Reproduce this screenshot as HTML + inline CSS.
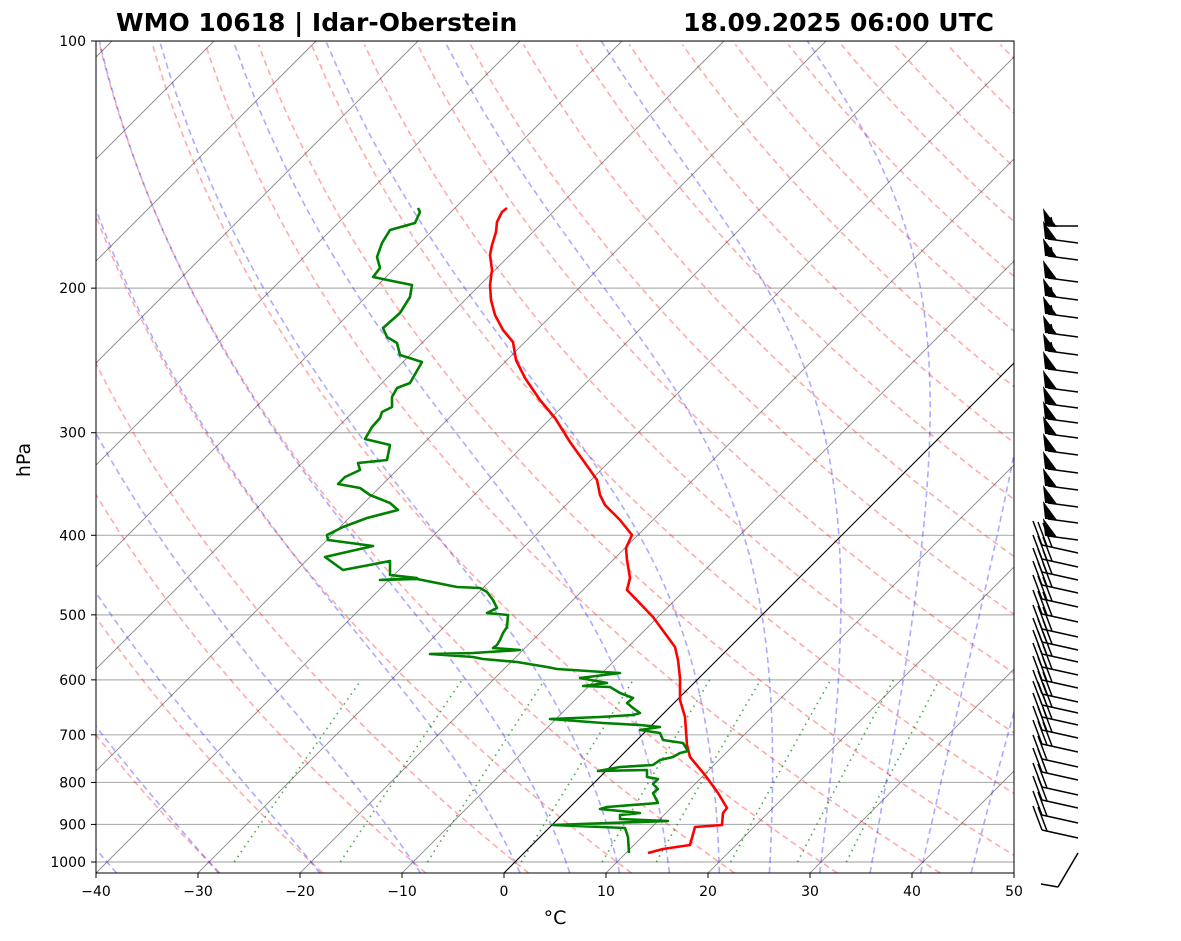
<!DOCTYPE html>
<html><head><meta charset="utf-8"><style>
html,body{margin:0;padding:0;background:#fff;}
svg{display:block;font-family:"DejaVu Sans","Liberation Sans",sans-serif;}
</style></head><body>
<svg id="s" width="1181" height="941" viewBox="0 0 1181 941" xmlns="http://www.w3.org/2000/svg">
<defs><clipPath id="c"><rect x="96" y="41" width="918" height="832"/></clipPath></defs>
<g id="bg" clip-path="url(#c)"></g>
<g id="fg" clip-path="url(#c)"></g>
<rect x="96" y="41" width="918" height="832" fill="none" stroke="#000" stroke-width="1"/>
<g id="ax" font-size="14" fill="#000"></g>
<g id="barbs" stroke="#000" stroke-width="1.5" fill="#000"></g>
<text x="116" y="31" font-size="25" font-weight="bold">WMO 10618 | Idar-Oberstein</text>
<text x="994" y="31" font-size="25" font-weight="bold" text-anchor="end">18.09.2025 06:00 UTC</text>
<text x="555" y="924" font-size="19" text-anchor="middle">°C</text>
<text transform="translate(30,460) rotate(-90)" font-size="19" text-anchor="middle">hPa</text>
</svg>
<script>
var NS="http://www.w3.org/2000/svg";
function el(p,t,a){var e=document.createElementNS(NS,t);for(var k in a)e.setAttribute(k,a[k]);p.appendChild(e);return e;}
var bg=document.getElementById('bg'),fg=document.getElementById('fg'),ax=document.getElementById('ax'),bb=document.getElementById('barbs');
function Y(p){return 41+821*Math.log10(p/100);}
function X(T,p){return 504+10.2*T+(873-Y(p));}
function pl(pts,attrs,par){var d=pts.map(function(q,i){return (i?'L':'M')+q[0].toFixed(1)+','+q[1].toFixed(1);}).join('');attrs.d=d;attrs.fill='none';return el(par||bg,'path',attrs);}
for(var p=100;p<=1000;p+=100){var y=Y(p);el(bg,'line',{x1:96,x2:1014,y1:y,y2:y,stroke:'#b0b0b0','stroke-width':1.2});
 el(ax,'line',{x1:91,x2:96,y1:y,y2:y,stroke:'#000'});var t=el(ax,'text',{x:86,y:y+5,'text-anchor':'end'});t.textContent=p;}
for(var T=-40;T<=50;T+=10){var x=504+10.2*T;el(ax,'line',{x1:x,x2:x,y1:873,y2:878,stroke:'#000'});var t=el(ax,'text',{x:x,y:896,'text-anchor':'middle'});t.textContent=(T<0?'\u2212'+(-T):T);}
var ps=[];for(var p=1031;p>=99;p-=5)ps.push(p);
for(var T=-160;T<=50;T+=10){pl([[X(T,1031),Y(1031)],[X(T,100),Y(100)]],{stroke:'#777','stroke-width':0.9,'stroke-opacity':0.9});}
for(var t0=-30;t0<=200;t0+=10){var th=t0+273.15;pl(ps.map(function(p){return [X(th*Math.pow(p/1000,0.2857)-273.15,p),Y(p)];}),{stroke:'#ff0000','stroke-opacity':0.33,'stroke-width':1.6,'stroke-dasharray':'6,4'});}
function es(Tc){return 6.112*Math.exp(17.67*Tc/(Tc+243.5));}
function dTdp(T,p){var Tc=T-273.15,e=es(Tc),rs=0.622*e/(p-e);return (1/p)*(287.04*T+2.501e6*rs)/(1005.7+2.501e6*2.501e6*rs*0.622/(287.04*T*T));}
var m0=[-50,-40,-30,-20,-10,0,5,10,15,20,25,30,35,40,45];
m0.forEach(function(t0){var T=t0+273.15,pts=[];var p=1000;var Td=T;for(var q=1000;q<1031;q+=1){Td+=dTdp(Td,q);}pts.push([X(Td-273.15,1031),Y(1031)]);pts.push([X(t0,1000),Y(1000)]);
 while(p>100){T-=dTdp(T,p);p-=1;if(p%10===0)pts.push([X(T-273.15,p),Y(p)]);}
 pl(pts,{stroke:'#0000ff','stroke-opacity':0.33,'stroke-width':1.6,'stroke-dasharray':'6,4'});});
[0.0004,0.001,0.002,0.004,0.007,0.01,0.016,0.024,0.032].forEach(function(w){var pts=[];for(var p=1000;p>=600;p-=20){var e=p*w/(0.622+w),l=Math.log(e/6.112),Td=243.5*l/(17.67-l);pts.push([X(Td,p),Y(p)]);}
 pl(pts,{stroke:'#008000','stroke-opacity':0.7,'stroke-width':1.6,'stroke-dasharray':'1.5,4.5'});});
pl([[504,873],[1014,363]],{stroke:'#000','stroke-width':1},fg);
var red=[[648,853],[663,849],[690,845],[695,827],[722,825],[723,813],[727,808],[718,793],[705,775],[690,757],[687,745],[685,717],[680,700],[680,678],[678,660],[675,647],[653,617],[627,590],[630,578],[627,560],[626,548],[632,535],[620,520],[605,505],[600,495],[597,480],[590,470],[570,442],[555,418],[540,400],[525,378],[516,360],[513,342],[503,330],[495,315],[491,300],[490,285],[492,270],[490,255],[492,245],[496,232],[497,222],[502,212],[507,208]];
var grn=[[629,853],[628,837],[625,828],[553,825],[668,821],[620,819],[620,815],[640,813],[600,809],[607,807],[658,803],[653,793],[658,789],[653,784],[658,779],[647,777],[647,770],[598,771],[620,767],[653,765],[660,760],[673,757],[680,753],[688,751],[683,743],[663,740],[660,733],[640,730],[660,727],[640,725],[603,723],[550,719],[600,717],[633,715],[640,713],[633,708],[627,703],[633,698],[620,693],[610,687],[583,686],[607,683],[580,678],[620,673],[603,672],[557,669],[547,667],[517,662],[483,659],[473,657],[430,654],[473,653],[520,650],[493,648],[497,645],[500,640],[503,633],[507,627],[508,615],[487,613],[497,608],[493,600],[487,592],[480,588],[457,587],[417,579],[380,580],[417,578],[390,575],[390,561],[343,570],[325,557],[373,546],[328,540],[327,535],[343,527],[367,518],[398,510],[390,503],[370,495],[360,488],[338,484],[345,477],[360,470],[358,463],[387,460],[390,445],[365,439],[372,427],[380,418],[382,412],[392,407],[392,397],[397,388],[410,383],[422,362],[400,355],[397,343],[387,337],[383,328],[400,313],[410,297],[412,285],[373,277],[380,268],[377,257],[382,243],[390,230],[415,223],[420,212],[418,208]];
pl(red,{stroke:'#ff0000','stroke-width':2.6,'stroke-linejoin':'round'},fg);
pl(grn,{stroke:'#008000','stroke-width':2.6,'stroke-linejoin':'round'},fg);
[226,243,260,282,300,318,337,355,373,392,408,423,438,455,473,490,507,523,540].forEach(function(y,i){var dy=i==0?0:4;
 el(bb,'line',{x1:1078,y1:y,x2:1048,y2:y-dy});el(bb,'polygon',{points:(1045)+','+(y-dy)+' 1057,'+(y-dy+1)+' 1043,'+(y-dy-18),stroke:'none'});
 if(i==0||i==2||i==4||i==5||i==6||i==7)el(bb,'line',{x1:1053,y1:y-dy,x2:1051,y2:y-dy-9});});
[553,567,580,593,607,622,637,650,662,675,688,702,713,725,738,752,767,780,795,808,823,838].forEach(function(y,i){
 var lx=1042,ly=y-8;el(bb,'line',{x1:1078,y1:y,x2:lx,y2:ly});var n=i<16?3:2;
 for(var k=0;k<n;k++){var bx=lx+k*5,by=ly+k*1;el(bb,'line',{x1:bx,y1:by,x2:bx-9,y2:by-24});}});
el(bb,'line',{x1:1078,y1:853,x2:1058,y2:887});el(bb,'line',{x1:1058,y1:887,x2:1041,y2:884});
</script>
</body></html>
